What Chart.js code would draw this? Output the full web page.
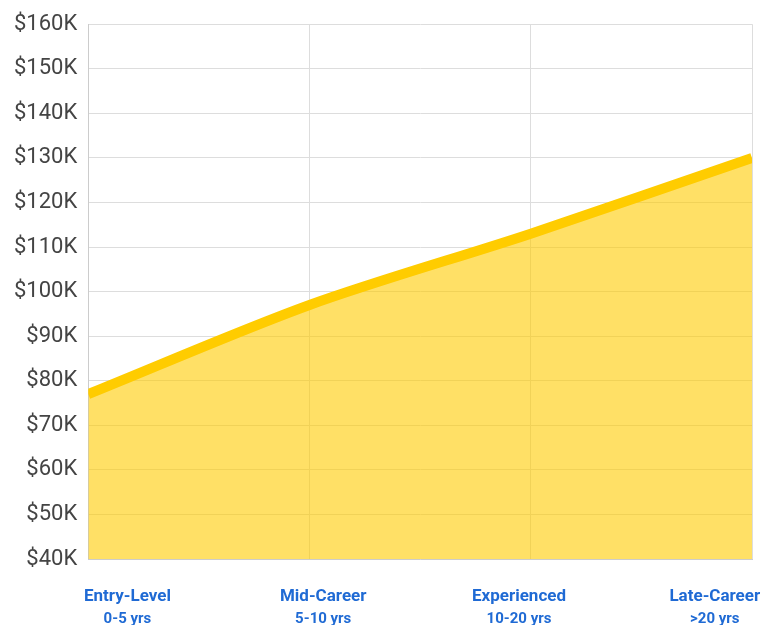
<!DOCTYPE html>
<html>
<head>
<meta charset="utf-8">
<script src="https://cdn.jsdelivr.net/npm/chart.js@4"></script>
<style>
  html, body { margin: 0; padding: 0; background: #fff; }
  #wrap { width: 764px; height: 627px; position: relative; }
</style>
</head>
<body>
<div id="wrap"><canvas id="salaryChart"></canvas></div>
<script>
// Salary by career stage
const categories = ['Entry-Level', 'Mid-Career', 'Experienced', 'Late-Career'];
const yearRanges = ['0-5 yrs', '5-10 yrs', '10-20 yrs', '>20 yrs'];
const salaries = [77000, 97000, 113000, 130000];

const yMin = 40000;
const yMax = 160000;
const yStep = 10000;

const labelBlue = '#1f6ad4';
const labelFont = "Roboto, 'Liberation Sans', sans-serif";

// label rows sit a bit inside the plot edges, so they get their own linear axes
const labelRange = { min: -0.2, max: 3.19 };
const indexTicks = axis => {
    axis.ticks = categories.map((c, i) => ({ value: i }));
};
// fixed height, and no extra side padding for the wide end labels
const fixedFit = h => axis => {
    axis.height = h;
    axis.paddingLeft = 0;
    axis.paddingRight = 0;
};

const ctx = document.getElementById('salaryChart').getContext('2d');
const chart = new Chart(ctx, {
    type: 'line',
    data: {
        labels: categories,
        datasets: [{
            label: 'Salary',
            data: salaries,
            borderColor: '#FFCC00',
            backgroundColor: 'rgba(255, 204, 0, 0.6)',
            borderWidth: 10,
            fill: 'start',
            tension: 0.3,
            pointRadius: 0,
            pointHoverRadius: 0,
            clip: 0
        }]
    },
    options: {
        responsive: true,
        maintainAspectRatio: false,
        animation: false,
        layout: {
            padding: { top: 6, left: 3, right: 12, bottom: 2 }
        },
        plugins: {
            legend: { display: false },
            tooltip: { enabled: false }
        },
        scales: {
            x: {
                type: 'category',
                position: 'bottom',
                offset: false,
                afterFit: fixedFit(0),
                grid: { color: '#dddddd', drawTicks: false },
                border: { color: '#cccccc' },
                ticks: { display: false }
            },
            xName: {
                type: 'linear',
                position: 'bottom',
                min: labelRange.min,
                max: labelRange.max,
                afterBuildTicks: indexTicks,
                afterFit: fixedFit(49),
                grid: { display: false, drawTicks: false },
                border: { display: false },
                ticks: {
                    padding: 28,
                    maxRotation: 0,
                    autoSkip: false,
                    color: labelBlue,
                    font: { family: labelFont, size: 17, weight: 'bold' },
                    callback: v => categories[v]
                }
            },
            xYears: {
                type: 'linear',
                position: 'bottom',
                min: labelRange.min,
                max: labelRange.max,
                afterBuildTicks: indexTicks,
                afterFit: fixedFit(17),
                grid: { display: false, drawTicks: false },
                border: { display: false },
                ticks: {
                    padding: 2,
                    maxRotation: 0,
                    autoSkip: false,
                    color: labelBlue,
                    font: { family: labelFont, size: 15, weight: 'bold' },
                    callback: v => yearRanges[v]
                }
            },
            y: {
                min: yMin,
                max: yMax,
                grid: { color: '#dddddd', drawTicks: false },
                border: { color: '#cccccc' },
                ticks: {
                    stepSize: yStep,
                    padding: 11,
                    color: '#444444',
                    font: { family: labelFont, size: 22 },
                    callback: v => '$' + (v / 1000) + 'K'
                }
            }
        }
    }
});
</script>
</body>
</html>
